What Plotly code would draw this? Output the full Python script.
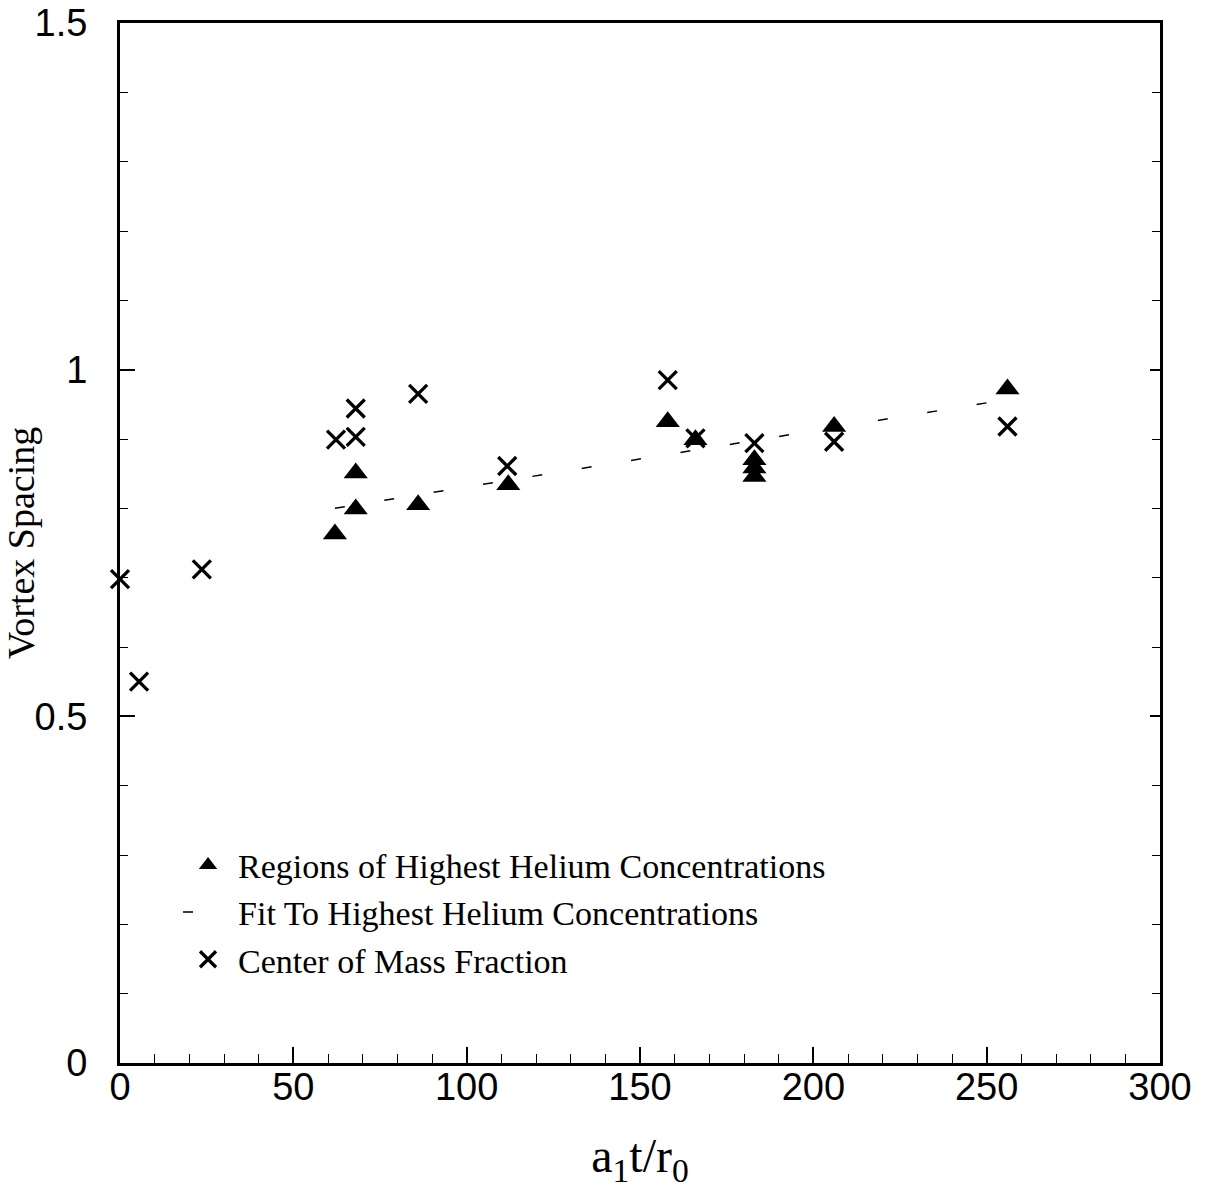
import plotly.graph_objects as go

# Regions of highest helium concentrations (triangles)
tri_x = [62, 68, 68, 86, 112, 158, 166, 183, 183, 183, 206, 256]
tri_y = [0.763, 0.799, 0.851, 0.805, 0.834, 0.925, 0.899, 0.870, 0.858, 0.846, 0.918, 0.972]

# Fit to highest helium concentrations (dashed line)
fit_x = [62, 256]
fit_y = [0.800, 0.957]

# Center of mass fraction (crosses)
cm_x = [0, 5.5, 23.6, 62.3, 68, 68, 86, 111.7, 158, 166, 183, 206, 256]
cm_y = [0.698, 0.550, 0.712, 0.899, 0.903, 0.944, 0.965, 0.861, 0.985, 0.901, 0.894, 0.896, 0.918]

x_ticks = [0, 50, 100, 150, 200, 250, 300]
y_ticks = [0, 0.5, 1, 1.5]
y_tick_text = ["0", "0.5", "1", "1.5"]

fig = go.Figure()
fig.add_trace(go.Scatter(
    x=tri_x, y=tri_y, mode="markers",
    name="Regions of Highest Helium Concentrations",
    marker=dict(symbol="triangle-up", size=21, color="black"),
    cliponaxis=False,
))
fig.add_trace(go.Scatter(
    x=fit_x, y=fit_y, mode="lines", yaxis="y2",
    name="Fit To Highest Helium Concentrations",
    line=dict(color="black", width=1.5, dash="10px,40px"),
))
fig.add_trace(go.Scatter(
    x=cm_x, y=cm_y, mode="markers",
    name="Center of Mass Fraction",
    marker=dict(symbol="x-thin", size=18, color="black",
                line=dict(color="black", width=3.3)),
    cliponaxis=False,
))

tick_font = dict(family="Liberation Sans, Arial, sans-serif", size=38, color="black")
serif = "Liberation Serif, Times New Roman, serif"

fig.update_layout(
    width=1211, height=1199,
    margin=dict(l=120, r=51, t=23, b=136),
    paper_bgcolor="white", plot_bgcolor="white",
    showlegend=True,
    legend=dict(
        x=0.0558, y=0.218, xanchor="left", yanchor="top",
        bgcolor="rgba(0,0,0,0)", borderwidth=0, itemwidth=50,
        font=dict(family=serif, size=34, color="black"),
        traceorder="normal",
    ),
    xaxis=dict(
        range=[0, 300], tickvals=x_ticks, ticks="inside", ticklen=16, tickwidth=1.5,
        tickcolor="black", showline=True, linecolor="black", linewidth=3, mirror=True,
        showgrid=False, zeroline=False, tickfont=tick_font, ticklabelstandoff=-12,
        automargin=False,
        minor=dict(ticks="inside", ticklen=9, dtick=10, tickwidth=1.2, tickcolor="black", showgrid=False),
        title=dict(text="a<sub>1</sub>t/r<sub>0</sub>",
                   font=dict(family=serif, size=48, color="black"),
                   standoff=32),
    ),
    yaxis=dict(
        range=[0, 1.5], tickvals=y_ticks, ticktext=y_tick_text, ticks="inside", ticklen=15,
        tickwidth=1.5, tickcolor="black", showline=True, linecolor="black", linewidth=3,
        mirror=True, showgrid=False, zeroline=False, tickfont=tick_font, ticklabelstandoff=22,
        automargin=False,
        minor=dict(ticks="inside", ticklen=8, dtick=0.1, tickwidth=1.2, tickcolor="black", showgrid=False),
        title=dict(text="Vortex Spacing",
                   font=dict(family=serif, size=38, color="black"),
                   standoff=0),
    ),
    yaxis2=dict(
        range=[0, 1.5], overlaying="y", side="right", matches="y", tickvals=y_ticks,
        ticks="inside", ticklen=10, tickwidth=1.5, tickcolor="black", showticklabels=False,
        showline=False, showgrid=False, zeroline=False, automargin=False,
        minor=dict(ticks="inside", ticklen=8, dtick=0.1, tickwidth=1.2, tickcolor="black", showgrid=False),
    ),
)

fig.write_html("out.html")
